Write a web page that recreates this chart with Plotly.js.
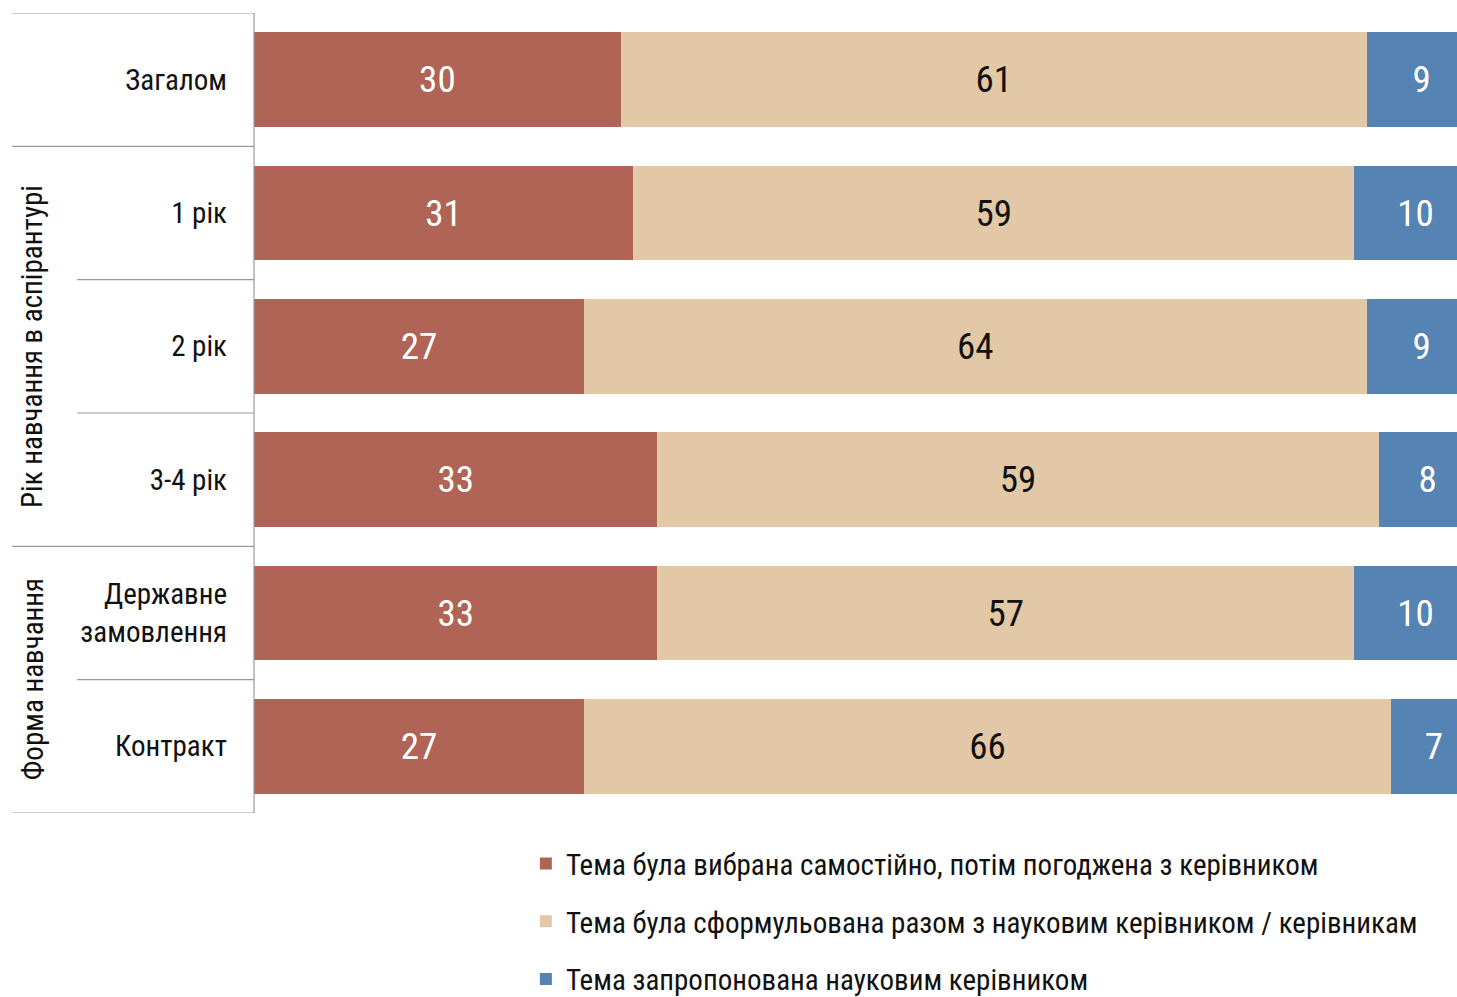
<!DOCTYPE html>
<html>
<head>
<meta charset="utf-8">
<script src="https://cdn.plot.ly/plotly-3.0.1.min.js"></script>
<style>html,body{margin:0;padding:0;background:#fff;}#chart{width:1457px;height:997px;}</style>
</head>
<body>
<div id="chart"></div>
<script>
const categories = ["Загалом", "1 рік", "2 рік", "3-4 рік", "Державне замовлення", "Контракт"];
const categoryLabels = ["Загалом", "1 рік", "2 рік", "3-4 рік", "Державне<br>замовлення", "Контракт"];
const seriesNames = [
  "Тема була вибрана самостійно, потім погоджена з керівником",
  "Тема була сформульована разом з науковим керівником / керівникам",
  "Тема запропонована науковим керівником"
];
const selfChosen = [30, 31, 27, 33, 33, 27];
const together = [61, 59, 64, 59, 57, 66];
const proposed = [9, 10, 9, 8, 10, 7];
const groupLabels = ["Рік навчання в аспірантурі", "Форма навчання"];

const FONT = "'Roboto Condensed', Roboto, 'Liberation Sans', sans-serif";
const colors = ["#B06455", "#E3C8A7", "#5583B3"];
const textColors = ["#ffffff", "#111111", "#ffffff"];
const seriesValues = [selfChosen, together, proposed];

const traces = seriesValues.map((vals, i) => ({
  type: "bar",
  orientation: "h",
  name: seriesNames[i],
  x: vals,
  y: categories,
  marker: {color: colors[i], line: {width: 0}},
  text: vals.map(String),
  textposition: "inside",
  insidetextanchor: "middle",
  constraintext: "none",
  cliponaxis: true,
  textfont: {family: FONT, size: 37, color: textColors[i]},
  legendgroup: "g" + i,
  hoverinfo: "x+y+name"
}));

const lineColor = "#9a9a9a";
const shapes = [];
shapes.push({type: "line", xref: "paper", yref: "y", x0: 0, x1: 0, y0: -0.5, y1: 5.5, line: {color: lineColor, width: 1.2}});
const fullBoundaries = [-0.5, 0.5, 3.5, 5.5];
const partBoundaries = [1.5, 2.5, 4.5];
fullBoundaries.forEach(b => shapes.push({type: "line", xref: "paper", yref: "y", x0: -0.201, x1: 0, y0: b, y1: b, line: {color: lineColor, width: 1.2}}));
partBoundaries.forEach(b => shapes.push({type: "line", xref: "paper", yref: "y", x0: -0.147, x1: 0, y0: b, y1: b, line: {color: lineColor, width: 1.2}}));

const annotations = [
  {text: groupLabels[0], xref: "paper", yref: "y", x: -0.184, y: 2, textangle: -90, showarrow: false, font: {family: FONT, size: 29, color: "#111"}, xanchor: "center", yanchor: "middle"},
  {text: groupLabels[1], xref: "paper", yref: "y", x: -0.184, y: 4.5, textangle: -90, showarrow: false, font: {family: FONT, size: 29, color: "#111"}, xanchor: "center", yanchor: "middle"}
];

const layout = {
  width: 1457, height: 997,
  margin: {l: 254, r: 0, t: 13, b: 184, autoexpand: false},
  barmode: "stack",
  bargap: 0.29,
  paper_bgcolor: "#fff",
  plot_bgcolor: "#fff",
  font: {family: FONT, size: 29, color: "#111"},
  xaxis: {range: [0, 98.4], visible: false, fixedrange: true},
  yaxis: {
    type: "category",
    categoryorder: "array",
    categoryarray: categories,
    tickvals: categories,
    ticktext: categoryLabels,
    range: [5.5, -0.5],
    showgrid: false, zeroline: false, showline: false,
    ticks: "", ticklabelstandoff: 26,
    tickfont: {family: FONT, size: 29, color: "#111"}
  },
  showlegend: true,
  legend: {
    orientation: "v",
    x: 0.226, xanchor: "left",
    y: -0.0315, yanchor: "top",
    traceorder: "grouped",
    tracegroupgap: 17,
    font: {family: FONT, size: 29, color: "#111"},
    itemwidth: 30
  },
  shapes: shapes,
  annotations: annotations
};

Plotly.newPlot("chart", traces, layout, {displayModeBar: false, staticPlot: true});
</script>
</body>
</html>
